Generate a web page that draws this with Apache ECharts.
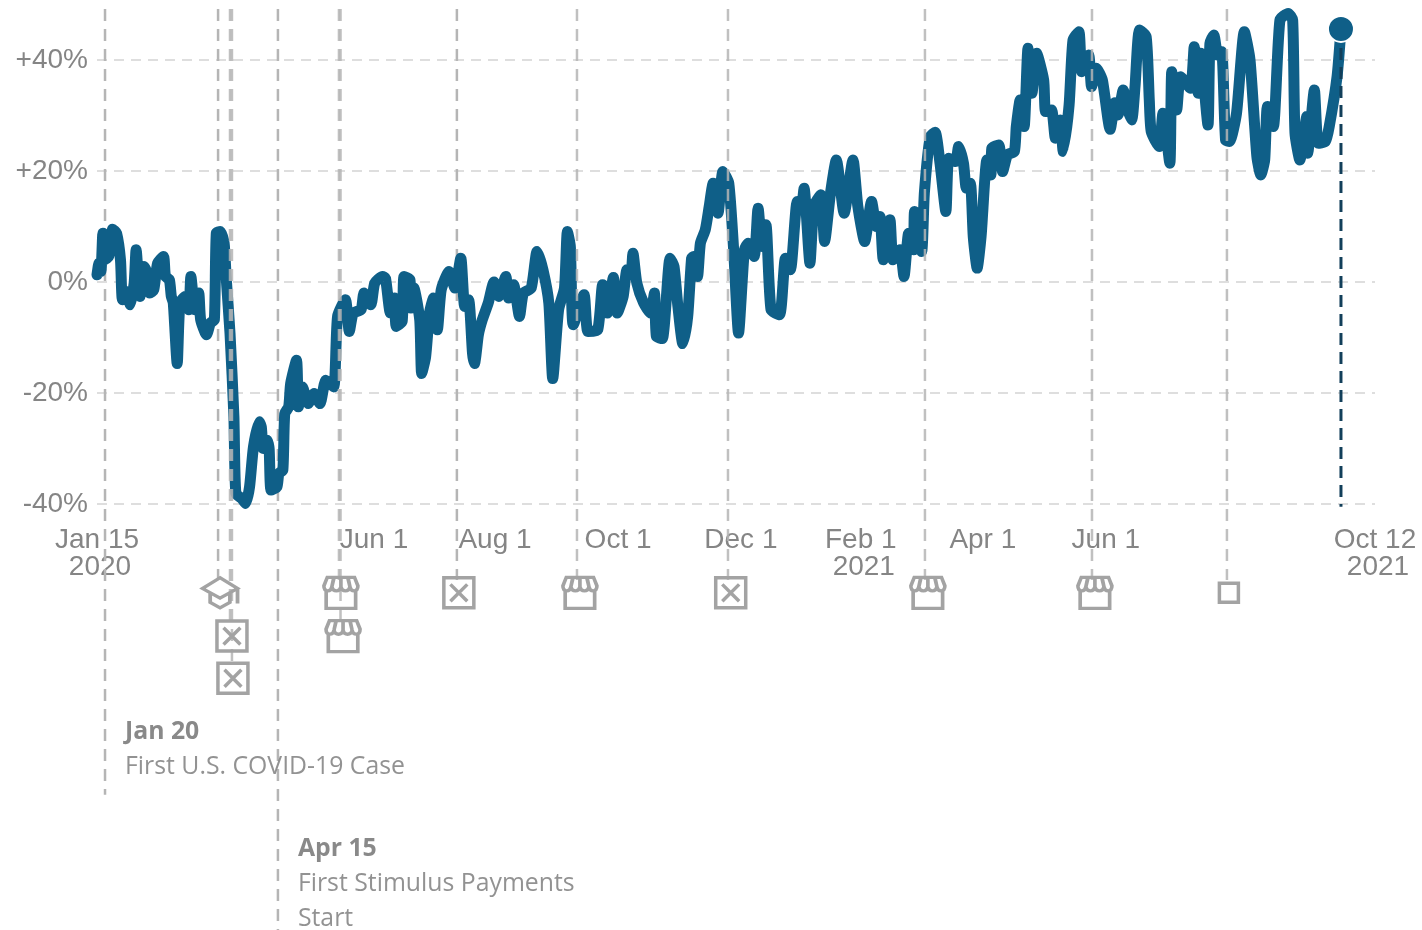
<!DOCTYPE html>
<html>
<head>
<meta charset="utf-8">
<script src="https://cdn.jsdelivr.net/npm/echarts@6/dist/echarts.min.js"></script>
<style>html,body{margin:0;padding:0;background:#fff}#c{width:1422px;height:930px}</style>
</head>
<body>
<div id="c"></div>
<script>
// Days since Jan 15 2020, and change in percent
const days = [0,1,2,3,4,6,8,10,12,13,15,17,19,20,22,24,25,27,29,31,34,35,37,38,39,41,42.4,45,47,48,50,52,53,56,58,60,61,63,65,66,68,70,71,74,76,78,80,83,84,85,87,88,89,92,93,95,96,98,99,102,103,105,108,111,114,117,121,123,
127,129,131,135,136.5,140,142,146,147.5,150,152,153,156,157,160,160.5,162,165,166,168,170,172,174,176,180,183,186,188,190,192,193,195,197,200,203,205.5,209,210.5,213,216,218,222,225,228,231,233,236,239,240.5,242,243.5,249,251,256,258.5,261,264,266,269,271,273,274,276,279.5,283,285,286,289,293,295,297,299.5,302,304,305,307,308.5,311,313,315,317.5,320,323,325.5,328,331,333,336,338,340,342,344.6,349,352,354.5,358,360,361.5,364.5,366.5,370,372,375,378,382,386.5,389,392.5,396,398.5,400.3,402,405.4,407,410.5,412.6,415,417.4,418,421.6,423,426,428.5,431,434,435.5,439,440.5,443,444.5,446.5,448,450,452,455,457,457.5,461,463,465.5,469,470,472,474,476,478,480.4,484,485,488,490,492.5,494,497,499,502,503.5,507,508.5,511,514,518,520.5,522,524.7,526.5,529,530.7,533,536.4,538,539,543,545,548.5,549.5,552,554,559,561,563,564.2,568,569,571,573,575,577,579,582.6,586.6,589.5,593,595,597,598.4,601.4,604.8,609,611.3,612.5,615,618.5,619,622.4,624.4,628,630,634,636];
const values = [1.3,3.4,1.9,8.8,4.0,4.6,9.5,8.8,4.0,-3.2,-1.7,-4.1,-0.2,5.8,-2.6,2.8,2.2,-2.0,-1.4,3.4,4.6,1.0,0.4,-2.6,-3.8,-14.7,-3.8,-2.6,-5.0,1.0,-5.0,-2.0,-6.8,-9.5,-7.4,-6.8,8.8,9.1,7.0,1.0,-9.2,-24.3,-38.1,-39.0,-39.9,-36.9,-29.7,-25.2,-26.1,-30.0,-28.5,-30.0,-37.5,-36.9,-34.5,-33.9,-23.7,-22.5,-18.3,-14.1,-22.5,-18.9,-21.9,-20.1,-21.9,-17.7,-18.9,-6.2,
-3.2,-8.9,-5.6,-5.0,-2.0,-4.1,-0.2,1.0,0.7,-5.6,-2.9,-8.0,-7.1,1.0,0.4,-4.7,-1.1,-6.8,-16.5,-13.5,-5.6,-2.9,-8.6,-1.4,1.9,-1.1,4.3,-4.4,-3.2,-12.9,-14.7,-9.5,-6.8,-3.8,0,-2.6,1.0,-2.9,-0.5,-6.2,-2.0,-1.1,5.5,2.2,-3.8,-17.4,-5.0,-1.1,9.1,6.4,-7.7,-2.3,-8.9,-8.6,-0.5,-5.6,0.8,-5.6,-2.6,2.2,1.6,5.2,-0.2,-3.8,-5.6,-2.0,-9.8,-10.2,4.3,2.8,-4.4,-11.1,-6.2,4.3,4.6,1.0,7.0,9.4,13.6,17.8,12.4,19.9,17.8,5.8,-9.2,5.8,7.0,4.6,13.3,6.4,10.3,-5.0,-5.9,4.3,2.2,14.5,13.0,16.9,3.4,13.6,15.7,7.3,16.0,22.0,12.4,22.0,13.6,7.3,14.5,10.0,11.8,4.0,11.2,4.0,5.8,1.0,8.8,5.8,12.7,5.5,16.0,26.2,27.0,21.4,12.7,22.3,21.7,24.4,21.4,16.9,17.8,8.2,2.5,8.2,22.0,19.3,24.1,24.7,19.9,22.9,23.5,28.0,32.8,28.0,42.1,34.0,41.2,36.4,30.7,31.0,25.9,29.2,23.5,31.9,43.6,45.1,37.9,40.9,35.2,38.5,36.4,27.5,32.3,30.1,34.6,31.6,29.2,35.2,45.4,44.2,32.8,27.1,24.4,30.4,21.4,37.9,31.0,37.0,34.9,42.4,34.0,41.2,28.3,43.0,44.5,40.9,41.5,25.6,25.3,30.4,45.1,40.0,22.6,19.3,22.0,31.6,28.0,47.2,48.4,47.2,26.8,22.0,29.8,23.2,34.6,25.0,25.3,28.0,37.0,45.6];

const yTicks = [-40,-20,0,20,40];
const tickDays = [0,141.6,203.5,266.4,329.2,390.5,452.9,515.8,653.4];
const tickLabels = ['Jan 15\n2020','Jun 1','Aug 1','Oct 1','Dec 1','Feb 1\n2021','Apr 1','Jun 1','Oct 12\n2021'];

// Event rules: [day, lowest value reached below the axis]
const eventsUnder = [[4.1,-92.4],[61.9,-53.7],[92.5,-116.8],[184,-53.7]];
const eventsOver = [[68,-61],[69,-69],[123.7,-53.7],[124.5,-61],[245.4,-53.7],[322.6,-53.7],[423.3,-53.7],[508.7,-53.7],[577.7,-53.7]];
const eventTop = 49.2;
const lastDay = 636, lastValue = 45.6, lastRuleEnd = -40.5;

// Icon rows: [day, row value]
const capIcons = [[62.9,-56]];
const boxIcons = [[69,-63.8],[69.5,-71.4],[185,-56],[324,-56]];
const storeIcons = [[124.7,-56],[125.8,-63.8],[246.9,-56],[424.8,-56],[510.2,-56]];
const squareIcons = [[578.7,-56]];

const notes = [
  {day:4.1, row:-84.3, head:'Jan 20', body:'First U.S. COVID-19 Case'},
  {day:92.5, row:-108.4, head:'Apr 15', body:'First Stimulus Payments\nStart'}
];

const BLUE = '#0f5f88', RULE = '#b5b5b5', ICON = '#a3a3a3', LABEL = '#858585';
const CAP = 'path://M17 2L1 12L17 21L33 12Z M8 16V25L17 30L26 25V16 M33 12V26';
const BOX = 'path://M0 0H32V32H0Z M7 7L25 25 M25 7L7 25';
const STORE = 'path://M4 14V30H30V14 M2 9L5 1H29L32 9C32 15 26 15 25 10C24 15 18 15 17 10C16 15 10 15 9 10C8 15 2 15 2 9Z M11 1L9 10 M17 1V10 M23 1L25 10';
const SQUARE = 'path://M0 0H20V20H0Z';

function rule(e, z){
  return {type:'line', z, silent:true, clip:false, showSymbol:false, symbol:'none',
    data:[[e[0],eventTop],[e[0],e[1]]],
    lineStyle:{color:RULE,width:2.5,type:[12,8],opacity:z>3?0.85:1}};
}
function icons(data, symbol, size){
  return {type:'scatter', z:6, silent:true, clip:false, data, symbol, symbolSize:size,
    itemStyle:{color:'transparent',borderColor:ICON,borderWidth:3.5,opacity:1}};
}
const pairs = days.map((d,i)=>[d,values[i]]);
const labelFont = {fontFamily:'Liberation Sans',fontSize:28,lineHeight:27,color:LABEL};

const option = {
  animation:false,
  backgroundColor:'#fff',
  grid:{left:97,right:47,top:0,height:504,containLabel:false},
  xAxis:{type:'value',min:0,max:653.4,
    axisLine:{show:false},axisTick:{show:false},splitLine:{show:false},
    axisLabel:{customValues:tickDays,margin:23,color:LABEL,fontFamily:'Liberation Sans',fontSize:28,lineHeight:27,
      verticalAlign:'top',hideOverlap:false,
      rich:{m:labelFont,y:{...labelFont,padding:[0,0,0,6]}},
      formatter:v=>{
        const i=tickDays.indexOf(v);
        if(i<0) return '';
        const p=tickLabels[i].split('\n');
        return '{m|'+p[0]+'}'+(p[1]?'\n{y|'+p[1]+'}':'');
      }}},
  yAxis:{type:'value',min:-40,max:50.81,interval:20,
    axisLine:{show:false},axisTick:{show:false},
    splitLine:{show:true,showMaxLine:false,lineStyle:{color:'#dedede',width:2,type:[10,7]}},
    axisLabel:{showMaxLabel:false,margin:9,color:LABEL,fontFamily:'Liberation Sans',fontSize:28,padding:[5,0,0,0],
      formatter:v=>yTicks.includes(v)?(v>0?'+'+v+'%':v+'%'):''}},
  series:[
    ...eventsUnder.map(e=>rule(e,1)),
    {type:'line',z:3,silent:true,data:pairs,showSymbol:false,symbol:'none',smooth:0.2,clip:false,
      lineStyle:{color:BLUE,width:11,cap:'round',join:'round'}},
    ...eventsOver.map(e=>rule(e,4)),
    {type:'line',z:4,silent:true,clip:false,showSymbol:false,symbol:'none',
      data:[[lastDay,lastValue],[lastDay,lastRuleEnd]],
      lineStyle:{color:'#123f5a',width:3,type:[12,7]}},
    {type:'scatter',z:5,silent:true,clip:false,data:[[lastDay,lastValue]],symbol:'circle',symbolSize:26,
      itemStyle:{color:BLUE,borderColor:'#fff',borderWidth:2,opacity:1}},
    icons(capIcons,CAP,[35,30]),
    icons(boxIcons,BOX,[30,30]),
    icons(storeIcons,STORE,[34,31]),
    icons(squareIcons,SQUARE,[19,19]),
    {type:'scatter',z:7,silent:true,clip:false,symbolSize:0,
      data:notes.map(n=>({value:[n.day,n.row],head:n.head,body:n.body})),
      label:{show:true,position:'right',distance:20,align:'left',verticalAlign:'middle',
        formatter:p=>'{h|'+p.data.head+'}\n'+p.data.body.split('\n').map(s=>'{t|'+s+'}').join('\n'),
        rich:{
          h:{fontFamily:'Open Sans',fontWeight:'bold',fontSize:24.8,lineHeight:35,color:'#6b6b6b'},
          t:{fontFamily:'Open Sans',fontSize:24.8,lineHeight:35,color:'#777777'}
        }}}
  ]
};
echarts.init(document.getElementById('c'),null,{renderer:'canvas'}).setOption(option);
</script>
</body>
</html>
